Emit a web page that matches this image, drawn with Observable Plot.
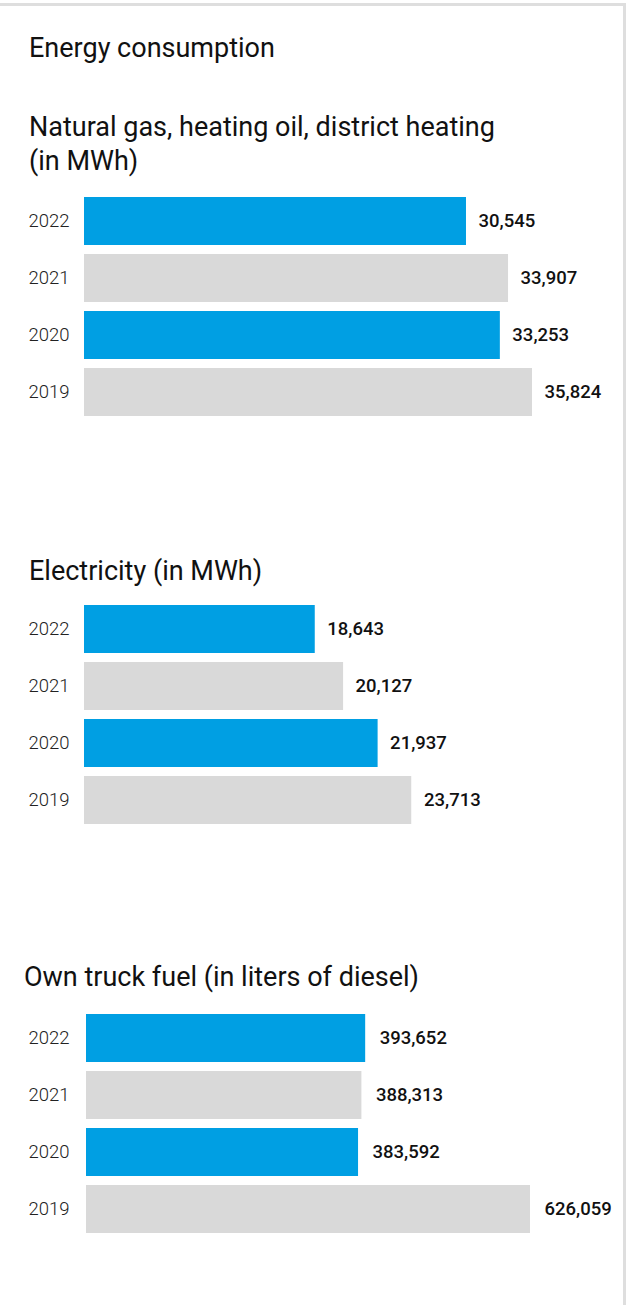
<!DOCTYPE html>
<html>
<head>
<meta charset="utf-8">
<script src="https://cdn.jsdelivr.net/npm/d3@7"></script>
<script src="https://cdn.jsdelivr.net/npm/@observablehq/plot@0.6"></script>
<style>
  html, body { margin: 0; padding: 0; background: #fff; }
  body { width: 627px; height: 1305px; position: relative; overflow: hidden; font-family: Roboto, "Noto Sans", sans-serif; color: #111; }
  #frame { position: absolute; left: -3px; top: 3px; width: 623px; height: 1400px; border: 3px solid #dedede; box-sizing: content-box; }
  .t { position: absolute; margin: 0; font-weight: 400; white-space: nowrap; font-size: 27px; }
  #main { left: 29px; top: 33px; line-height: 30px; }
  .sub { line-height: 34px; }
  #s1 { left: 29px; top: 110px; }
  #s2 { left: 29px; top: 554px; }
  #s3 { left: 24px; top: 960px; }
  .chart { position: absolute; left: 0; }
  #c1 { top: 197px; } #c2 { top: 605px; } #c3 { top: 1014px; }
  svg { overflow: visible; }
</style>
</head>
<body>
<div id="frame"></div>
<div class="t" id="main">Energy consumption</div>
<div class="t sub" id="s1">Natural gas, heating oil, district heating<br>(in MWh)</div>
<div class="t sub" id="s2">Electricity (in MWh)</div>
<div class="t sub" id="s3">Own truck fuel (in liters of diesel)</div>
<div class="chart" id="c1"></div>
<div class="chart" id="c2"></div>
<div class="chart" id="c3"></div>
<script>
const years = ["2022", "2021", "2020", "2019"];
const yearColors = ["#009fe3", "#d9d9d9", "#009fe3", "#d9d9d9"];
const heatingValues = [30545, 33907, 33253, 35824];
const electricityValues = [18643, 20127, 21937, 23713];
const truckFuelValues = [393652, 388313, 383592, 626059];

const fmt = d3.format(",");

function chart(values, {marginLeft, marginRight, domain, dx}) {
  const data = years.map((y, i) => ({year: y, value: values[i]}));
  return Plot.plot({
    width: 627,
    height: 219,
    marginTop: 0,
    marginBottom: 0,
    marginLeft,
    marginRight,
    style: {fontFamily: "Roboto", fontSize: "18.5px", overflow: "visible", background: "transparent"},
    x: {domain, axis: null},
    y: {domain: years, paddingInner: 9 / 57, paddingOuter: 0, label: null},
    color: {domain: years, range: yearColors},
    marks: [
      Plot.barX(data, {y: "year", x: "value", fill: "year", clip: true}),
      Plot.axisY({tickSize: 0, textAnchor: "start", dx: 29 - marginLeft + 8, fontWeight: 300, fill: "#222", label: null}),
      Plot.text(data, {y: "year", x: "value", text: d => fmt(d.value), textAnchor: "start", dx, fontWeight: 500, fill: "#111"})
    ]
  });
}

document.getElementById("c1").append(chart(heatingValues, {marginLeft: 84, marginRight: 95, domain: [0, 35824], dx: 12}));
document.getElementById("c2").append(chart(electricityValues, {marginLeft: 84, marginRight: 215.5, domain: [6550, 23713], dx: 12}));
document.getElementById("c3").append(chart(truckFuelValues, {marginLeft: 86, marginRight: 97, domain: [0, 626059], dx: 14}));
</script>
</body>
</html>
